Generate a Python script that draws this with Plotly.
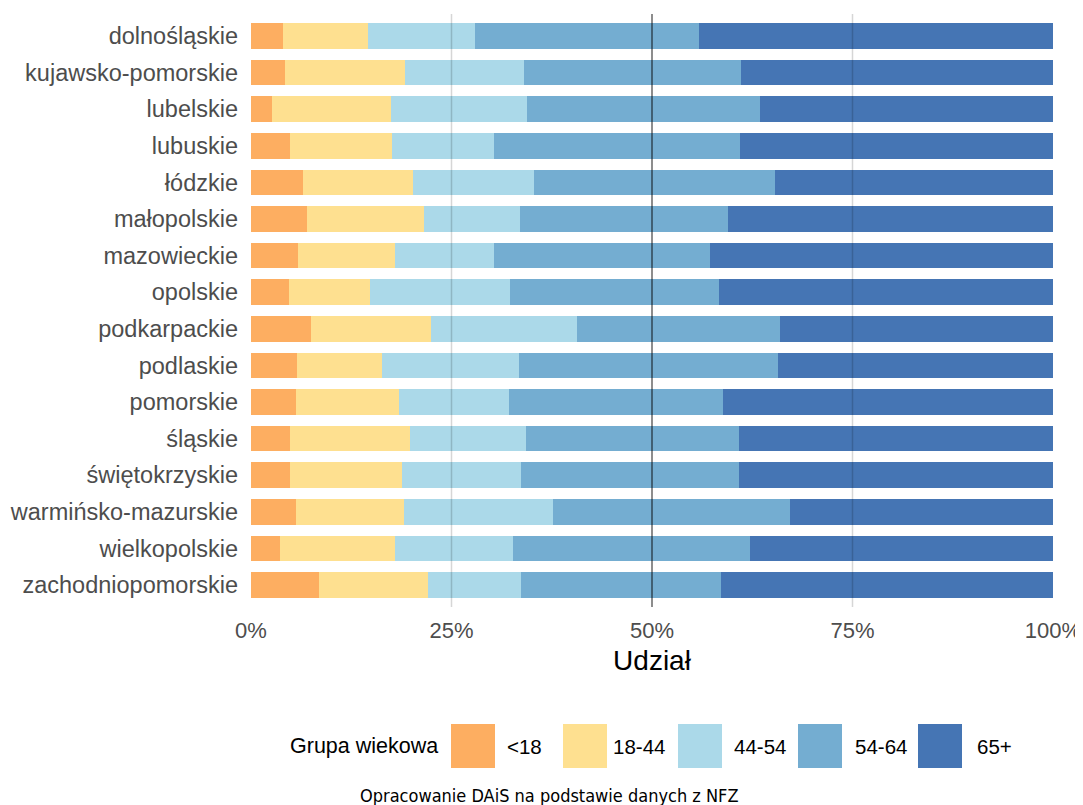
import plotly.graph_objects as go

regions = ["dolnośląskie", "kujawsko-pomorskie", "lubelskie", "lubuskie", "łódzkie",
           "małopolskie", "mazowieckie", "opolskie", "podkarpackie", "podlaskie",
           "pomorskie", "śląskie", "świętokrzyskie", "warmińsko-mazurskie",
           "wielkopolskie", "zachodniopomorskie"]

groups = ["<18", "18-44", "44-54", "54-64", "65+"]

# shares (%) per age group, per region (same order as regions)
share_lt18 = [4.0, 4.2, 2.6, 4.9, 6.5, 7.0, 5.9, 4.7, 7.5, 5.7, 5.6, 4.9, 4.9, 5.6, 3.6, 8.5]
share_18_44 = [10.6, 15.0, 14.9, 12.7, 13.7, 14.6, 12.1, 10.1, 14.9, 10.6, 12.9, 14.9, 13.9, 13.5, 14.4, 13.6]
share_44_54 = [13.3, 14.8, 16.9, 12.7, 15.1, 11.9, 12.3, 17.5, 18.2, 17.1, 13.7, 14.5, 14.9, 18.6, 14.7, 11.6]
share_54_64 = [28.0, 27.1, 29.1, 30.7, 30.0, 26.0, 26.9, 26.1, 25.4, 32.3, 26.7, 26.5, 27.1, 29.5, 29.5, 24.9]
share_65p = [44.1, 38.9, 36.5, 39.0, 34.7, 40.5, 42.8, 41.6, 34.0, 34.3, 41.1, 39.2, 39.2, 32.8, 37.8, 41.4]

series = [share_lt18, share_18_44, share_44_54, share_54_64, share_65p]
colors = ["#FDAE61", "#FEE090", "#ABD9E9", "#74ADD1", "#4575B4"]

fig = go.Figure()
for name, vals, col in zip(groups, series, colors):
    fig.add_trace(go.Bar(
        y=regions, x=[v / 100 for v in vals], name=name, orientation="h",
        marker=dict(color=col, line=dict(width=0)), showlegend=False,
    ))

OFF = 8  # page body margin
W, H = 1083 - OFF, 805 - OFF
L, R, T, B = 251 - OFF, 30, 14 - OFF, 198
pw, ph = W - L - R, H - T - B

def px_x(px):
    return (px - OFF - L) / pw

def px_y(py):
    return (H - B - (py - OFF)) / ph

shapes = []
# reference lines drawn above bars
for xv, op in [(0.25, 0.16), (0.5, 0.6), (0.75, 0.16)]:
    shapes.append(dict(type="line", xref="x", yref="paper", x0=xv, x1=xv, y0=0, y1=1,
                       line=dict(color=f"rgba(0,0,0,{op})", width=1.5), layer="above"))

annotations = []
# custom legend
sw_left = [451, 563, 678, 798, 918]
lab_left = [505, 611, 732, 853, 975]
sw_top, sw_bot = 724, 768
for sl, ll, g, col in zip(sw_left, lab_left, groups, colors):
    shapes.append(dict(type="rect", xref="paper", yref="paper",
                       x0=px_x(sl), x1=px_x(sl + 44), y0=px_y(sw_bot), y1=px_y(sw_top),
                       fillcolor=col, line=dict(width=0)))
    annotations.append(dict(text=g, xref="paper", yref="paper", x=px_x(ll), y=px_y(746),
                            xanchor="left", yanchor="middle", showarrow=False,
                            font=dict(size=20.5, color="black", family="Liberation Sans")))
annotations.append(dict(text="Grupa wiekowa", xref="paper", yref="paper", x=px_x(440), y=px_y(746),
                        xanchor="right", yanchor="middle", showarrow=False,
                        font=dict(size=21.5, color="black", family="Liberation Sans")))
annotations.append(dict(text="Opracowanie DAiS na podstawie danych z NFZ", xref="paper", yref="paper",
                        x=px_x(549), y=px_y(783), xanchor="center", yanchor="top", showarrow=False,
                        font=dict(size=18, color="black", family="DejaVu Sans Condensed, DejaVu Sans")))

fig.update_layout(
    width=W, height=H,
    margin=dict(l=L, r=R, t=T, b=B, autoexpand=False),
    barmode="stack", bargap=0.3,
    plot_bgcolor="white", paper_bgcolor="white",
    font=dict(family="Liberation Sans, Arial", color="#4D4D4D"),
    shapes=shapes, annotations=annotations,
    xaxis=dict(range=[0, 1], tickvals=[0, 0.25, 0.5, 0.75, 1],
               ticktext=["0%", "25%", "50%", "75%", "100%"],
               showgrid=False, zeroline=False, showline=False, ticks="",
               tickfont=dict(size=22, color="#4D4D4D"), ticklabelstandoff=8,
               title=dict(text="Udział", font=dict(size=28, color="black"), standoff=8)),
    yaxis=dict(categoryorder="array", categoryarray=regions, range=[15.6, -0.6],
               showgrid=False, zeroline=False, showline=False, ticks="",
               tickfont=dict(size=23.5, color="#4D4D4D"), ticklabelstandoff=12),
)

fig.write_html("out.html")
